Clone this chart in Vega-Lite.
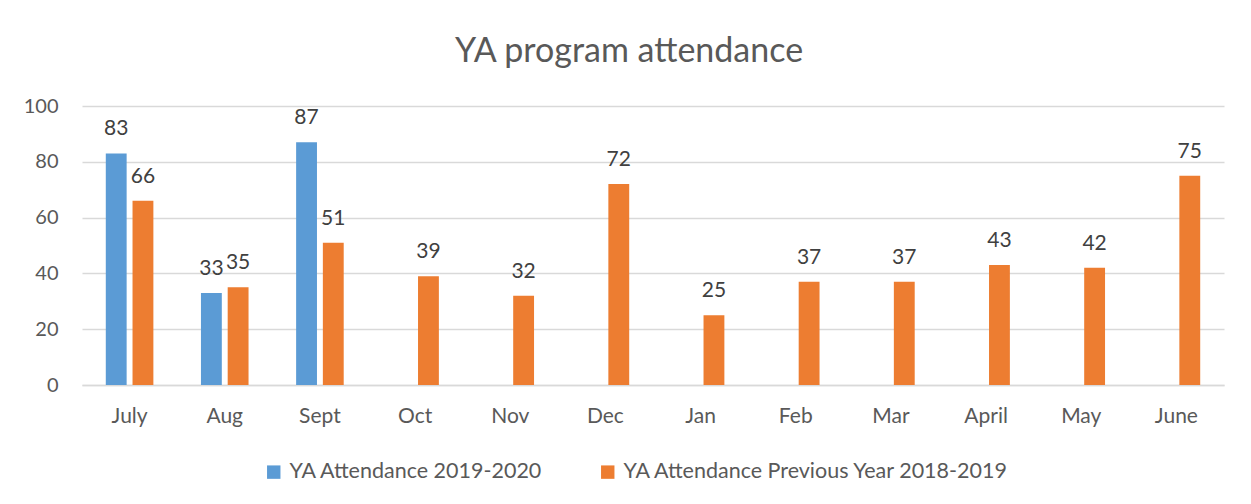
{
  "$schema": "https://vega.github.io/schema/vega-lite/v6.json",
  "autosize": "none",
  "width": 1142,
  "height": 279,
  "padding": {"left": 82, "top": 106, "right": 27, "bottom": 119},
  "background": "white",
  "title": {
    "text": "YA program attendance",
    "font": "Lato",
    "fontSize": 34,
    "fontWeight": "normal",
    "color": "#595959",
    "anchor": "middle",
    "frame": "group",
    "dx": -24,
    "offset": 27
  },
  "config": {
    "view": {"stroke": null},
    "font": "Lato",
    "axis": {"labelFont": "Lato", "labelColor": "#595959", "titleColor": "#595959"},
    "legend": {"labelFont": "Lato"}
  },
  "data": {
    "values": [
      {"month": "July", "series": "YA Attendance 2019-2020", "value": 83},
      {"month": "Aug", "series": "YA Attendance 2019-2020", "value": 33},
      {"month": "Sept", "series": "YA Attendance 2019-2020", "value": 87},
      {"month": "July", "series": "YA Attendance Previous Year 2018-2019", "value": 66},
      {"month": "Aug", "series": "YA Attendance Previous Year 2018-2019", "value": 35},
      {"month": "Sept", "series": "YA Attendance Previous Year 2018-2019", "value": 51},
      {"month": "Oct", "series": "YA Attendance Previous Year 2018-2019", "value": 39},
      {"month": "Nov", "series": "YA Attendance Previous Year 2018-2019", "value": 32},
      {"month": "Dec", "series": "YA Attendance Previous Year 2018-2019", "value": 72},
      {"month": "Jan", "series": "YA Attendance Previous Year 2018-2019", "value": 25},
      {"month": "Feb", "series": "YA Attendance Previous Year 2018-2019", "value": 37},
      {"month": "Mar", "series": "YA Attendance Previous Year 2018-2019", "value": 37},
      {"month": "April", "series": "YA Attendance Previous Year 2018-2019", "value": 43},
      {"month": "May", "series": "YA Attendance Previous Year 2018-2019", "value": 42},
      {"month": "June", "series": "YA Attendance Previous Year 2018-2019", "value": 75}
    ]
  },
  "encoding": {
    "x": {
      "field": "month",
      "type": "nominal",
      "sort": ["July", "Aug", "Sept", "Oct", "Nov", "Dec", "Jan", "Feb", "Mar", "April", "May", "June"],
      "scale": {"paddingInner": 0.5, "paddingOuter": 0.25},
      "axis": {
        "title": null,
        "labelAngle": 0,
        "labelFontSize": 21,
        "ticks": false,
        "domain": true,
        "domainColor": "#D9D9D9",
        "domainWidth": 1.5,
        "labelPadding": 20
      }
    },
    "xOffset": {
      "field": "series",
      "type": "nominal",
      "scale": {
        "domain": ["YA Attendance 2019-2020", "YA Attendance Previous Year 2018-2019"],
        "paddingInner": 0.22,
        "paddingOuter": 0
      }
    },
    "y": {
      "field": "value",
      "type": "quantitative",
      "scale": {"domain": [0, 100]},
      "axis": {
        "title": null,
        "values": [0, 20, 40, 60, 80, 100],
        "labelFontSize": 20,
        "domain": false,
        "ticks": false,
        "grid": true,
        "gridColor": "#D9D9D9",
        "gridWidth": 1.3,
        "labelPadding": 24
      }
    }
  },
  "layer": [
    {
      "mark": {"type": "bar"},
      "encoding": {
        "color": {
          "field": "series",
          "type": "nominal",
          "scale": {
            "domain": ["YA Attendance 2019-2020", "YA Attendance Previous Year 2018-2019"],
            "range": ["#5B9BD5", "#ED7D31"]
          },
          "legend": {
            "title": null,
            "orient": "none",
            "direction": "horizontal",
            "legendX": 181,
            "legendY": 355,
            "symbolType": "square",
            "symbolSize": 180,
            "symbolStrokeWidth": 0,
            "labelFontSize": 21.5,
            "labelColor": "#595959",
            "labelLimit": 600,
            "labelOffset": 5,
            "columnPadding": 54
          }
        }
      }
    },
    {
      "mark": {"type": "text", "baseline": "alphabetic", "dy": -18, "fontSize": 21, "color": "#404040", "font": "Lato"},
      "encoding": {
        "text": {"field": "value", "type": "quantitative"}
      }
    }
  ]
}
